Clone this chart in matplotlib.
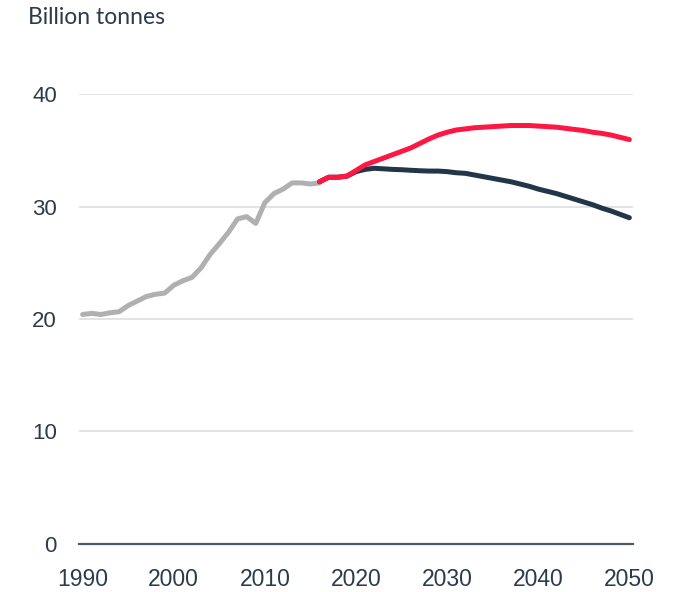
import matplotlib.pyplot as plt

# historical emissions (billion tonnes)
hist_years = list(range(1990, 2017))
hist_vals = [20.4, 20.5, 20.4, 20.55, 20.65, 21.2, 21.6, 22.0, 22.2, 22.3,
             23.0, 23.4, 23.7, 24.55, 25.75, 26.7, 27.7, 28.9, 29.1, 28.5,
             30.35, 31.15, 31.55, 32.1, 32.1, 32.0, 32.1]

# projections
proj_years = list(range(2016, 2051))
red_vals = [32.2, 32.6, 32.6, 32.7, 33.2, 33.7, 34.0, 34.3, 34.6, 34.9,
            35.2, 35.6, 36.0, 36.35, 36.6, 36.8, 36.9, 37.0, 37.05, 37.1,
            37.15, 37.2, 37.2, 37.2, 37.15, 37.1, 37.05, 36.95, 36.85, 36.75,
            36.6, 36.5, 36.35, 36.15, 35.95]
navy_vals = [32.2, 32.6, 32.6, 32.7, 33.1, 33.3, 33.4, 33.35, 33.3, 33.27,
             33.22, 33.18, 33.15, 33.15, 33.1, 33.0, 32.95, 32.8, 32.65, 32.5,
             32.35, 32.2, 32.0, 31.8, 31.55, 31.35, 31.15, 30.9, 30.65, 30.4,
             30.15, 29.85, 29.6, 29.3, 29.0]

xticks = [1990, 2000, 2010, 2020, 2030, 2040, 2050]
yticks = [0, 10, 20, 30, 40]

TEXT = '#2b3b4c'

fig = plt.figure(figsize=(6.81, 5.92), dpi=100)
ax = fig.add_axes([0.116, 0.0811, 0.8135, 0.7601])

line_kw = dict(lw=3.6, solid_capstyle='round', solid_joinstyle='round')
ax.plot(hist_years, hist_vals, color='#b0b0b0', zorder=3, **line_kw)
ax.plot(proj_years, navy_vals, color='#22364a', zorder=3, **line_kw)
ax.plot(proj_years, red_vals, color='#ff1744', zorder=4, **line_kw)

ax.set_xlim(1989.6, 2050.4)
ax.set_ylim(0, 40)
ax.set_xticks(xticks)
ax.set_yticks(yticks)
ax.grid(axis='y', color='#dcdee1', lw=1.2)
ax.set_axisbelow(True)
for s in ['top', 'right', 'left']:
    ax.spines[s].set_visible(False)
ax.spines['bottom'].set_color('#4b5b6a')
ax.spines['bottom'].set_linewidth(1.6)
ax.spines['bottom'].set_zorder(5)
ax.tick_params(length=0)
ax.tick_params(axis='y', pad=16, labelsize=16, labelcolor=TEXT)
ax.tick_params(axis='x', pad=17, labelsize=16.5, labelcolor=TEXT)
for lab in ax.get_xticklabels() + ax.get_yticklabels():
    lab.set_fontfamily('Liberation Sans')

fig.text(28 / 681, 1 - 17 / 592, 'Billion tonnes', fontsize=16.5, color=TEXT,
         family='Lato', va='center', ha='left')

fig.savefig('out.png', dpi=100)
